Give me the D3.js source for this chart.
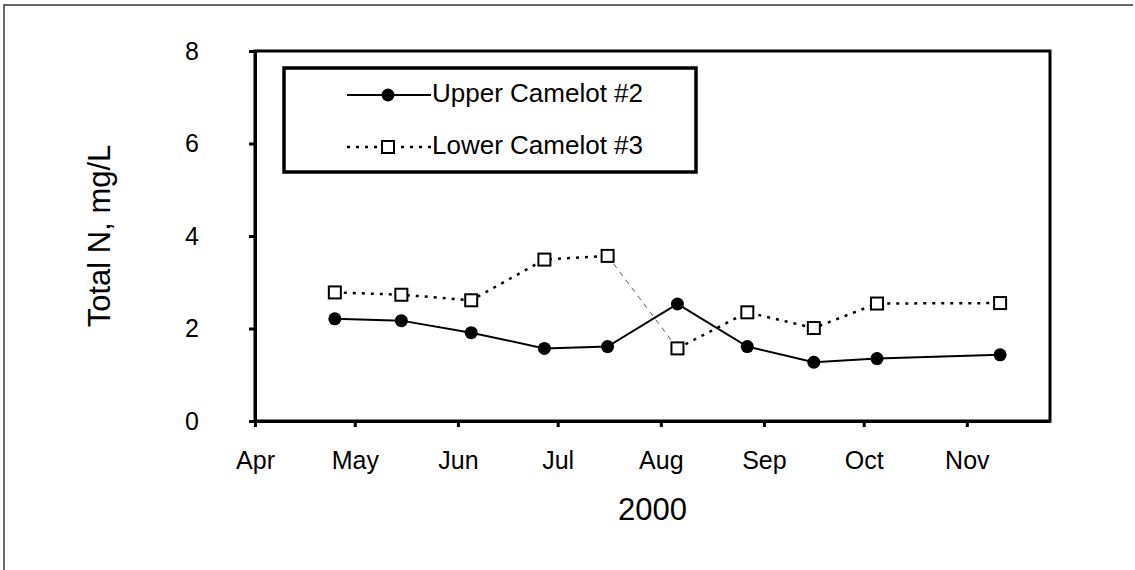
<!DOCTYPE html>
<html>
<head>
<meta charset="utf-8">
<script src="https://cdn.jsdelivr.net/npm/d3@7"></script>
<style>
  html, body { margin: 0; padding: 0; background: #fff; }
  svg { display: block; font-family: "Liberation Sans", Arial, sans-serif; }
</style>
</head>
<body>
<div id="chart"></div>
<script>
// Sample dates (2000) and Total N values
const sampleDates = ['2000-04-25', '2000-05-15', '2000-06-05', '2000-06-27', '2000-07-16',
                     '2000-08-06', '2000-08-27', '2000-09-16', '2000-10-05', '2000-11-11'];
const upperCamelot = [2.21, 2.17, 1.91, 1.57, 1.61, 2.53, 1.61, 1.27, 1.35, 1.43];
const lowerCamelot = [2.78, 2.73, 2.61, 3.49, 3.57, 1.57, 2.35, 2.01, 2.54, 2.55];
const seriesNames = ['Upper Camelot #2', 'Lower Camelot #3'];
const yTicks = [0, 2, 4, 6, 8];
const monthTicks = ['2000-04-01', '2000-05-01', '2000-06-01', '2000-07-01',
                    '2000-08-01', '2000-09-01', '2000-10-01', '2000-11-01'];

const width = 1135, height = 570;
const margin = { left: 255, right: 85, top: 51, bottom: 151 };
const parse = d3.utcParse('%Y-%m-%d');

const svg = d3.select('#chart').append('svg')
  .attr('width', width)
  .attr('height', height);

// outer chart frame (only top and left edges show)
svg.append('path')
  .attr('d', `M4,${height} V5 H1133`)
  .attr('fill', 'none')
  .attr('stroke', '#3a3a3a')
  .attr('stroke-width', 1.5);

const x = d3.scaleUtc()
  .domain([parse('2000-04-01'), parse('2000-11-26')])
  .range([margin.left, width - margin.right]);

const y = d3.scaleLinear()
  .domain([0, 8])
  .range([height - margin.bottom + 2, margin.top]);

const upper = sampleDates.map((d, i) => ({ date: parse(d), value: upperCamelot[i] }));
const lower = sampleDates.map((d, i) => ({ date: parse(d), value: lowerCamelot[i] }));

// plot frame
svg.append('rect')
  .attr('x', x.range()[0])
  .attr('y', y(8))
  .attr('width', x.range()[1] - x.range()[0])
  .attr('height', y(0) - y(8))
  .attr('fill', 'none')
  .attr('stroke', '#000')
  .attr('stroke-width', 3);

// y axis
const yAxis = svg.append('g')
  .attr('transform', `translate(${x.range()[0]},0)`)
  .call(d3.axisLeft(y).tickValues(yTicks).tickSize(6).tickPadding(50).tickSizeOuter(0));
yAxis.select('.domain').attr('stroke-width', 3);
yAxis.selectAll('.tick line').attr('stroke-width', 3);
yAxis.selectAll('text').attr('font-size', 25).attr('fill', '#000');

// x axis
const xAxis = svg.append('g')
  .attr('transform', `translate(0,${y(0)})`)
  .call(d3.axisBottom(x).tickValues(monthTicks.map(parse))
    .tickFormat(d3.utcFormat('%b')).tickSize(6).tickSizeOuter(0));
xAxis.select('.domain').attr('stroke-width', 3);
xAxis.selectAll('.tick line').attr('stroke-width', 3);
xAxis.selectAll('text')
  .attr('font-size', 25)
  .attr('fill', '#000')
  .attr('y', 48)
  .attr('dy', 0);

// axis titles
svg.append('text')
  .attr('x', (x.range()[0] + x.range()[1]) / 2)
  .attr('y', 520)
  .attr('text-anchor', 'middle')
  .attr('font-size', 31)
  .text('2000');

svg.append('text')
  .attr('transform', `translate(110,${(y(0) + y(8)) / 2}) rotate(-90)`)
  .attr('text-anchor', 'middle')
  .attr('font-size', 31)
  .text('Total N, mg/L');

const line = d3.line().x(d => x(d.date)).y(d => y(d.value));

// lower camelot: dotted, with one thin dashed gap segment
const dotted = { stroke: '#000', width: 2.5, dash: '3,6' };
svg.append('path')
  .datum(lower.slice(0, 5))
  .attr('d', line)
  .attr('fill', 'none')
  .attr('stroke', dotted.stroke)
  .attr('stroke-width', dotted.width)
  .attr('stroke-dasharray', dotted.dash);
svg.append('path')
  .datum(lower.slice(5))
  .attr('d', line)
  .attr('fill', 'none')
  .attr('stroke', dotted.stroke)
  .attr('stroke-width', dotted.width)
  .attr('stroke-dasharray', dotted.dash);
svg.append('path')
  .datum(lower.slice(4, 6))
  .attr('d', line)
  .attr('fill', 'none')
  .attr('stroke', '#555')
  .attr('stroke-width', 1)
  .attr('stroke-dasharray', '5,5');

// upper camelot: solid line
svg.append('path')
  .datum(upper)
  .attr('d', line)
  .attr('fill', 'none')
  .attr('stroke', '#000')
  .attr('stroke-width', 2);

svg.append('g').selectAll('circle')
  .data(upper)
  .join('circle')
  .attr('cx', d => x(d.date))
  .attr('cy', d => y(d.value))
  .attr('r', 6.5)
  .attr('fill', '#000');

svg.append('g').selectAll('rect')
  .data(lower)
  .join('rect')
  .attr('x', d => x(d.date) - 6)
  .attr('y', d => y(d.value) - 6)
  .attr('width', 12)
  .attr('height', 12)
  .attr('fill', '#fff')
  .attr('stroke', '#000')
  .attr('stroke-width', 2);

// legend
const legend = svg.append('g');
legend.append('rect')
  .attr('x', 284)
  .attr('y', 68)
  .attr('width', 412)
  .attr('height', 104)
  .attr('fill', '#fff')
  .attr('stroke', '#000')
  .attr('stroke-width', 3.5);

legend.append('line')
  .attr('x1', 347).attr('x2', 431).attr('y1', 95).attr('y2', 95)
  .attr('stroke', '#000').attr('stroke-width', 2);
legend.append('circle')
  .attr('cx', 388).attr('cy', 95).attr('r', 6.5).attr('fill', '#000');

legend.append('line')
  .attr('x1', 347).attr('x2', 431).attr('y1', 147).attr('y2', 147)
  .attr('stroke', '#000').attr('stroke-width', dotted.width)
  .attr('stroke-dasharray', dotted.dash);
legend.append('rect')
  .attr('x', 382).attr('y', 141).attr('width', 12).attr('height', 12)
  .attr('fill', '#fff').attr('stroke', '#000').attr('stroke-width', 2);

legend.selectAll('text')
  .data(seriesNames)
  .join('text')
  .attr('x', 432)
  .attr('y', (d, i) => 102 + i * 52)
  .attr('font-size', 26)
  .text(d => d);
</script>
</body>
</html>
